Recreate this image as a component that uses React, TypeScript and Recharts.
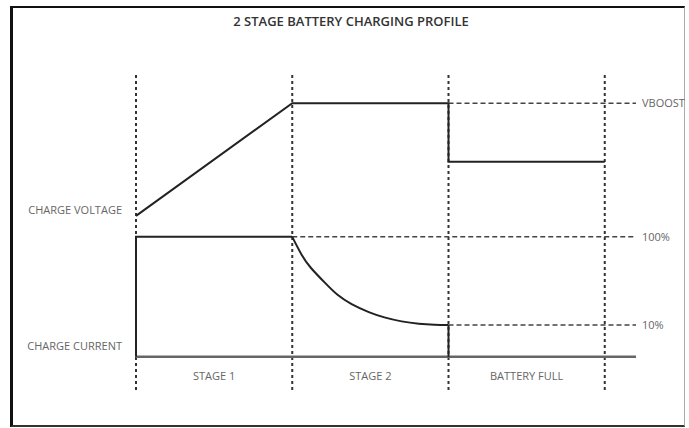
import { LineChart, Line, XAxis, YAxis, ReferenceLine } from 'recharts';

// stage boundaries on the time axis (one unit per stage)
const stageBounds = [0, 1, 2, 3];
const stageMids = [0.5, 1.5, 2.5];
const stageNames = ['STAGE 1', 'STAGE 2', 'BATTERY FULL'];
const xEnd = 3.2;

// charge voltage (relative levels)
const voltageX = [0, 1, 2, 2, 3];
const voltageY = [42.5, 76.5, 76.5, 58.8, 58.8];

// charge current: constant part, taper, cut-off
const bulkX = [0, 0, 1];
const bulkY = [0, 36.2, 36.2];
const taperX = [1.0, 1.06, 1.12, 1.21, 1.29, 1.38, 1.49, 1.59, 1.7, 1.81, 1.91, 2.0];
const taperY = [36.2, 30.8, 26.8, 22.3, 18.7, 15.9, 13.5, 11.9, 10.7, 10.0, 9.7, 9.6];
const cutX = [2, 2];
const cutY = [9.6, 0];

// reference levels on the right
const levelValues = [76.5, 36.2, 9.6];
const levelNames = ['VBOOST', '100%', '10%'];
const levelStarts = [2, 1, 2];

// side labels on the left
const sideValues = [44.1, 3.1];
const sideNames = ['CHARGE VOLTAGE', 'CHARGE CURRENT'];

const toPoints = (xs: number[], ys: number[]) => xs.map((x, i) => ({ x, y: ys[i] }));

const labelFont = { fontSize: 11, fill: '#666', fontFamily: 'Open Sans' };

function SideTick(props: any) {
  const { x, y, payload } = props;
  return (
    <text x={x} y={y} dy="0.35em" textAnchor="end" {...labelFont}>
      {sideNames[sideValues.indexOf(payload.value)]}
    </text>
  );
}

export default function App() {
  return (
    <div style={{ position: 'absolute', left: 0, top: 0, width: 689, height: 428, background: '#fff' }}>
      <div
        style={{
          position: 'absolute',
          left: 10,
          top: 6,
          width: 675,
          height: 421,
          boxSizing: 'border-box',
          borderTop: '2px solid #111',
          borderLeft: '3px solid #111',
          borderRight: '1px solid #aaa',
          borderBottom: '2px solid #333',
        }}
      />
      <div
        style={{
          position: 'absolute',
          left: 0,
          top: 12,
          width: 702,
          textAlign: 'center',
          fontFamily: 'Open Sans',
          fontSize: 13,
          fontWeight: 600,
          color: '#333',
        }}
      >
        2 STAGE BATTERY CHARGING PROFILE
      </div>
      <div style={{ position: 'absolute', left: 0, top: 0 }}>
        <LineChart width={689} height={428} margin={{ top: 75, right: 53, bottom: 38, left: 0 }}>
          <XAxis
            dataKey="x"
            type="number"
            domain={[0, xEnd]}
            ticks={stageMids}
            tickFormatter={(v: number) => stageNames[stageMids.indexOf(v)] ?? ''}
            mirror
            axisLine={false}
            tickLine={false}
            tickSize={0}
            tickMargin={10}
            tick={labelFont}
            interval={0}
          />
          <YAxis
            yAxisId="left"
            type="number"
            domain={[-10, 85]}
            width={136}
            ticks={sideValues}
            axisLine={false}
            tickLine={false}
            tickSize={0}
            tickMargin={14}
            tick={(p: any) => <SideTick {...p} />}
            interval={0}
          />
          {stageBounds.map((b) => (
            <ReferenceLine
              key={'s' + b}
              yAxisId="left"
              x={b}
              stroke="#333"
              strokeWidth={2}
              strokeDasharray="3 3"
            />
          ))}
          {levelValues.map((v, i) => (
            <ReferenceLine
              key={'l' + i}
              yAxisId="left"
              segment={[
                { x: levelStarts[i], y: v },
                { x: xEnd, y: v },
              ]}
              stroke="#444"
              strokeWidth={1.5}
              strokeDasharray="5 3"
              label={{ value: levelNames[i], position: 'right', offset: 6, ...labelFont }}
            />
          ))}
          <Line
            yAxisId="left"
            data={toPoints([0, xEnd], [0, 0])}
            dataKey="y"
            type="linear"
            stroke="#666"
            strokeWidth={2.5}
            dot={false}
            activeDot={false}
            isAnimationActive={false}
          />
          <Line
            yAxisId="left"
            data={toPoints(voltageX, voltageY)}
            dataKey="y"
            type="linear"
            stroke="#222"
            strokeWidth={2}
            dot={false}
            activeDot={false}
            isAnimationActive={false}
          />
          <Line
            yAxisId="left"
            data={toPoints(bulkX, bulkY)}
            dataKey="y"
            type="linear"
            stroke="#222"
            strokeWidth={2}
            dot={false}
            activeDot={false}
            isAnimationActive={false}
          />
          <Line
            yAxisId="left"
            data={toPoints(taperX, taperY)}
            dataKey="y"
            type="natural"
            stroke="#222"
            strokeWidth={2}
            dot={false}
            activeDot={false}
            isAnimationActive={false}
          />
          <Line
            yAxisId="left"
            data={toPoints(cutX, cutY)}
            dataKey="y"
            type="linear"
            stroke="#222"
            strokeWidth={2}
            dot={false}
            activeDot={false}
            isAnimationActive={false}
          />
        </LineChart>
      </div>
    </div>
  );
}
